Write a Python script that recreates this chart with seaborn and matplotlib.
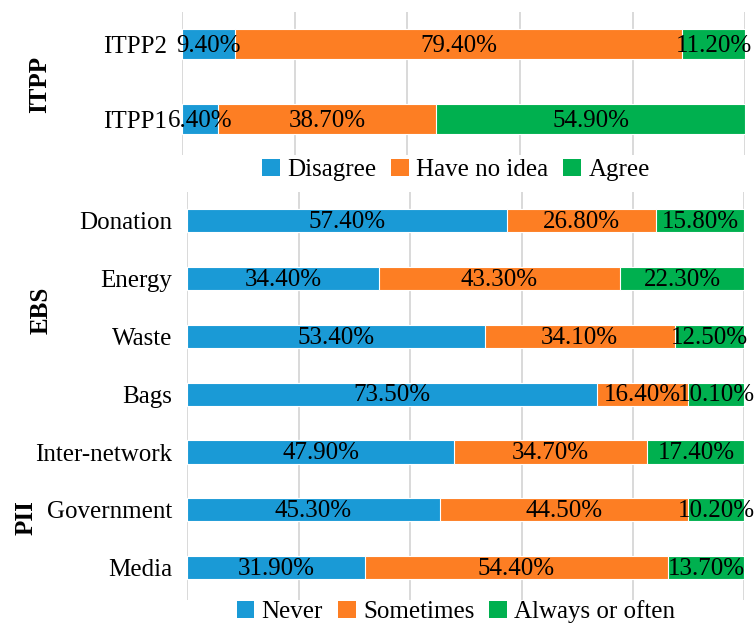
import numpy as np
import pandas as pd
import matplotlib
matplotlib.use("Agg")
import matplotlib.pyplot as plt
import seaborn as sns
from matplotlib.patches import Patch

# ---- data ----
itpp_items = ["ITPP2", "ITPP1"]
itpp_disagree = [9.4, 6.4]
itpp_no_idea = [79.4, 38.7]
itpp_agree = [11.2, 54.9]
itpp_labels = ["Disagree", "Have no idea", "Agree"]

beh_items = ["Donation", "Energy", "Waste", "Bags", "Inter-network", "Government", "Media"]
beh_never = [57.4, 34.4, 53.4, 73.5, 47.9, 45.3, 31.9]
beh_sometimes = [26.8, 43.3, 34.1, 16.4, 34.7, 44.5, 54.4]
beh_always = [15.8, 22.3, 12.5, 10.1, 17.4, 10.2, 13.7]
beh_labels = ["Never", "Sometimes", "Always or often"]

colors = ["#1a9ad6", "#fd7e23", "#00b04f"]

sns.set_theme(style="white")
plt.rcParams["font.family"] = ["Liberation Serif", "DejaVu Serif"]
plt.rcParams["text.color"] = "black"
plt.rcParams["ytick.color"] = "black"
FS = 18


def stacked(ax, items, series, ylim):
    df = pd.DataFrame(dict(zip(["a", "b", "c"], series)), index=items)
    cum = df.cumsum(axis=1)
    # draw from the longest cumulative bar down so that shorter ones sit on top
    for col, color in zip(["c", "b", "a"], colors[::-1]):
        sns.barplot(x=cum[col].values, y=items, order=items, orient="h",
                    color=color, width=0.4, errorbar=None, saturation=1,
                    edgecolor="white", linewidth=0.8, ax=ax)
    for i, item in enumerate(items):
        left = 0
        for col in ["a", "b", "c"]:
            v = df.loc[item, col]
            ax.text(left + v / 2, i + 0.02, f"{v:.2f}%", ha="center", va="center",
                    fontsize=FS, color="black", zorder=5)
            left += v
    ax.set_xlim(0, 100)
    ax.set_xticks(range(0, 101, 20))
    ax.set_ylim(*ylim)
    ax.grid(axis="x", color="#d9d9d9", linewidth=1.4)
    ax.grid(axis="y", visible=False)
    ax.set_axisbelow(True)
    ax.tick_params(axis="x", length=0, labelbottom=False)
    ax.tick_params(axis="y", length=0, pad=11, labelsize=FS, labelcolor="black")
    ax.set_xlabel("")
    ax.set_ylabel("")
    sns.despine(ax=ax, left=True, bottom=True)


fig = plt.figure(figsize=(7.55, 6.33), dpi=100)
ax1 = fig.add_axes([0.241, 0.755, 0.746, 0.226])
ax2 = fig.add_axes([0.248, 0.052, 0.738, 0.645])

stacked(ax1, itpp_items, [itpp_disagree, itpp_no_idea, itpp_agree], (1.48, -0.43))
stacked(ax2, beh_items, [beh_never, beh_sometimes, beh_always], (6.56, -0.5))

# group labels
fig.text(0.053, 0.866, "ITPP", rotation=90, fontsize=FS, fontweight="bold",
         ha="center", va="center")
fig.text(0.054, 0.51, "EBS", rotation=90, fontsize=FS, fontweight="bold",
         ha="center", va="center")
fig.text(0.034, 0.182, "PII", rotation=90, fontsize=FS, fontweight="bold",
         ha="center", va="center")

# legends
for labels, ypos in [(itpp_labels, 1 - 170 / 633), (beh_labels, 1 - 612 / 633)]:
    handles = [Patch(facecolor=c, edgecolor="none", label=l) for c, l in zip(colors, labels)]
    fig.legend(handles=handles, loc="center", bbox_to_anchor=(456 / 755, ypos),
               ncol=3, frameon=False, fontsize=FS, handlelength=0.7,
               handleheight=0.7, handletextpad=0.3, columnspacing=0.6,
               borderaxespad=0, labelcolor="black")

fig.savefig("out.png", dpi=100)
